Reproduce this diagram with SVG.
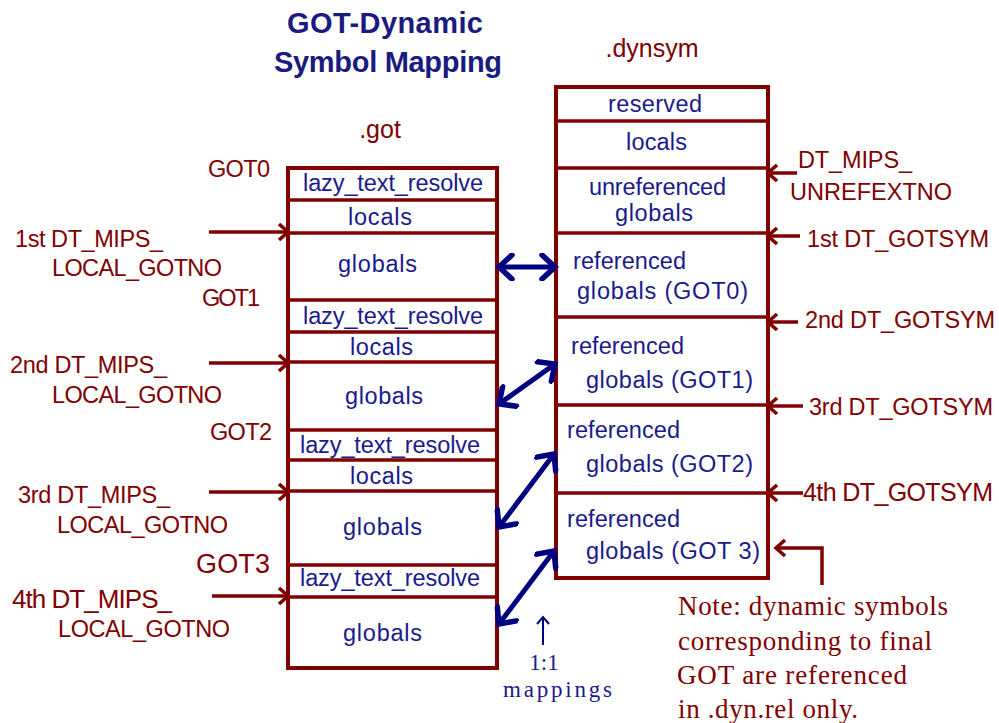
<svg xmlns="http://www.w3.org/2000/svg" width="999" height="723" viewBox="0 0 999 723">
<style>
.red{fill:#800000;font-family:"Liberation Sans",Arial,sans-serif;font-size:23.5px}
.blue{fill:#1a1a8c;font-family:"Liberation Sans",Arial,sans-serif;font-size:23.5px}
.title{fill:#1a1a80;font-family:"Liberation Sans",Arial,sans-serif;font-size:29px;font-weight:bold}
.note{fill:#800000;font-family:"Liberation Serif","Times New Roman",serif;font-size:27px}
.bserif{fill:#1a1a8c;font-family:"Liberation Serif","Times New Roman",serif;font-size:23px}
.box{fill:#fff;stroke:#800000;stroke-width:4}
.sep{stroke:#800000;stroke-width:3.5;fill:none}
.rarr{stroke:#800000;stroke-width:3.5;fill:none;marker-end:url(#rh)}
.barr{stroke:#000080;stroke-width:5;fill:none;marker-start:url(#bh);marker-end:url(#bh)}
</style>
<defs>
<marker id="rh" markerWidth="16" markerHeight="18" refX="12" refY="9" orient="auto" markerUnits="userSpaceOnUse">
<path d="M3,1 L12,9 L3,17" fill="none" stroke="#800000" stroke-width="3.5"/>
</marker>
<marker id="bh" markerWidth="24" markerHeight="28" refX="17" refY="14" orient="auto-start-reverse" markerUnits="userSpaceOnUse">
<path d="M4,2 L17,14 L4,26" fill="none" stroke="#000080" stroke-width="5.5" stroke-linecap="round"/>
</marker>
<marker id="th" markerWidth="16" markerHeight="16" refX="8" refY="8" orient="auto" markerUnits="userSpaceOnUse">
<path d="M1,2 L8,8 L1,14" fill="none" stroke="#000080" stroke-width="2"/>
</marker>
</defs>
<rect width="999" height="723" fill="#fff"/>

<g id="title">
<text class="title" x="287" y="33" textLength="196">GOT-Dynamic</text>
<text class="title" x="274" y="72" textLength="228">Symbol Mapping</text>
</g>

<g id="got">
<text class="red" x="380" y="138" text-anchor="middle" style="font-size:25px">.got</text>
<rect class="box" x="288" y="168" width="209" height="500"/>
<line class="sep" x1="290" y1="200" x2="495" y2="200"/>
<line class="sep" x1="288" y1="233" x2="497" y2="233"/>
<line class="sep" x1="288" y1="300" x2="497" y2="300"/>
<line class="sep" x1="288" y1="332" x2="497" y2="332"/>
<line class="sep" x1="288" y1="362" x2="497" y2="362"/>
<line class="sep" x1="288" y1="430" x2="497" y2="430"/>
<line class="sep" x1="288" y1="460" x2="497" y2="460"/>
<line class="sep" x1="288" y1="491" x2="497" y2="491"/>
<line class="sep" x1="288" y1="565" x2="497" y2="565"/>
<line class="sep" x1="288" y1="597" x2="497" y2="597"/>
<text class="blue" x="303" y="191" textLength="180">lazy_text_resolve</text>
<text class="blue" x="348" y="225" textLength="64">locals</text>
<text class="blue" x="338" y="272" textLength="79">globals</text>
<text class="blue" x="303" y="324" textLength="180">lazy_text_resolve</text>
<text class="blue" x="350" y="355" textLength="63">locals</text>
<text class="blue" x="345" y="404" textLength="78">globals</text>
<text class="blue" x="300" y="453" textLength="180">lazy_text_resolve</text>
<text class="blue" x="350" y="484" textLength="63">locals</text>
<text class="blue" x="343" y="535" textLength="79">globals</text>
<text class="blue" x="300" y="586" textLength="180">lazy_text_resolve</text>
<text class="blue" x="343" y="641" textLength="79">globals</text>
</g>

<g id="got-labels">
<text class="red" x="208" y="177" textLength="62">GOT0</text>
<text class="red" x="202" y="306" textLength="58">GOT1</text>
<text class="red" x="210" y="440" textLength="62">GOT2</text>
<text class="red" x="196" y="573" textLength="74" style="font-size:27px">GOT3</text>
<text class="red" x="15" y="247" textLength="148">1st DT_MIPS_</text>
<text class="red" x="52" y="276" textLength="170">LOCAL_GOTNO</text>
<text class="red" x="10" y="373" textLength="157">2nd DT_MIPS_</text>
<text class="red" x="52" y="403" textLength="170">LOCAL_GOTNO</text>
<text class="red" x="18" y="503" textLength="152">3rd DT_MIPS_</text>
<text class="red" x="57" y="533" textLength="171">LOCAL_GOTNO</text>
<text class="red" x="12" y="608" textLength="160" style="font-size:26px">4th DT_MIPS_</text>
<text class="red" x="58" y="637" textLength="172">LOCAL_GOTNO</text>
</g>

<g id="dynsym">
<text class="red" x="652" y="57" text-anchor="middle" style="font-size:25px">.dynsym</text>
<rect class="box" x="556" y="87" width="212" height="491"/>
<line class="sep" x1="556" y1="121" x2="768" y2="121"/>
<line class="sep" x1="554" y1="168" x2="768" y2="168"/>
<line class="sep" x1="556" y1="233" x2="768" y2="233"/>
<line class="sep" x1="556" y1="317" x2="768" y2="317"/>
<line class="sep" x1="556" y1="405" x2="768" y2="405"/>
<line class="sep" x1="556" y1="493" x2="768" y2="493"/>
<text class="blue" x="608" y="112" textLength="94">reserved</text>
<text class="blue" x="626" y="150" textLength="61">locals</text>
<text class="blue" x="589" y="195" textLength="137">unreferenced</text>
<text class="blue" x="615" y="221" textLength="78">globals</text>
<text class="blue" x="573" y="269" textLength="113">referenced</text>
<text class="blue" x="577" y="299" textLength="171">globals  (GOT0)</text>
<text class="blue" x="571" y="354" textLength="113">referenced</text>
<text class="blue" x="586" y="388" textLength="167">globals  (GOT1)</text>
<text class="blue" x="567" y="438" textLength="113">referenced</text>
<text class="blue" x="586" y="472" textLength="167">globals  (GOT2)</text>
<text class="blue" x="567" y="527" textLength="113">referenced</text>
<text class="blue" x="586" y="559" textLength="174">globals  (GOT 3)</text>
</g>

<g id="dynsym-labels">
<text class="red" x="798" y="168" textLength="114">DT_MIPS_</text>
<text class="red" x="790" y="200" textLength="162">UNREFEXTNO</text>
<text class="red" x="807" y="247" textLength="182">1st DT_GOTSYM</text>
<text class="red" x="805" y="328" textLength="190">2nd DT_GOTSYM</text>
<text class="red" x="809" y="415" textLength="184">3rd DT_GOTSYM</text>
<text class="red" x="803" y="501" textLength="190" style="font-size:25px">4th DT_GOTSYM</text>
</g>

<g id="note">
<text class="note" x="678" y="615" textLength="270">Note: dynamic symbols</text>
<text class="note" x="678" y="650" textLength="254">corresponding to final</text>
<text class="note" x="677" y="684" textLength="230">GOT are referenced</text>
<text class="note" x="678" y="718" textLength="180">in .dyn.rel only.</text>
</g>

<g id="mappings">
<text class="bserif" x="544" y="670" text-anchor="middle">1:1</text>
<text class="bserif" x="503" y="697" textLength="109">mappings</text>
</g>

<g id="connectors">
<line class="rarr" x1="209" y1="232" x2="288" y2="232"/>
<line class="rarr" x1="209" y1="363" x2="288" y2="363"/>
<line class="rarr" x1="209" y1="492" x2="288" y2="492"/>
<line class="rarr" x1="212" y1="596" x2="288" y2="596"/>
<line class="rarr" x1="797" y1="173" x2="768" y2="173"/>
<line class="rarr" x1="800" y1="236" x2="768" y2="236"/>
<line class="rarr" x1="798" y1="322" x2="768" y2="322"/>
<line class="rarr" x1="803" y1="406" x2="768" y2="406"/>
<line class="rarr" x1="803" y1="493" x2="768" y2="493"/>
<polyline class="rarr" points="822,585 822,548 776,548"/>
<line class="barr" x1="499" y1="267" x2="555" y2="267"/>
<line class="barr" x1="499" y1="404" x2="555" y2="364"/>
<line class="barr" x1="499" y1="527" x2="554" y2="454"/>
<line class="barr" x1="499" y1="624" x2="554" y2="551"/>
<line x1="543" y1="645" x2="543" y2="617" stroke="#000080" stroke-width="2" marker-end="url(#th)"/>
</g>
</svg>
